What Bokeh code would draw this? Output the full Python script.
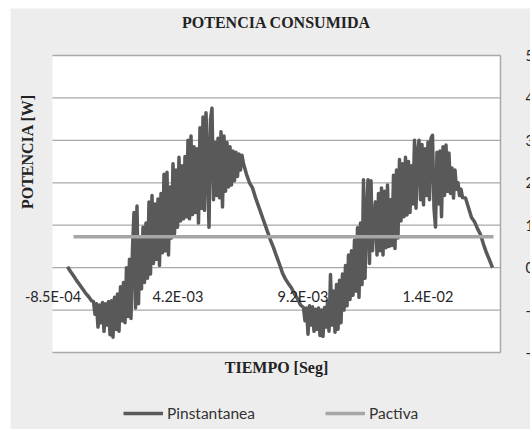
import math
from bokeh.plotting import figure
from bokeh.models import Range1d, Grid, Label, Legend, LegendItem, BoxAnnotation
from bokeh.embed import file_html
from bokeh.resources import INLINE

# ---------------- data ----------------
TITLE = "POTENCIA CONSUMIDA"
X_TITLE = "TIEMPO [Seg]"
Y_TITLE = "POTENCIA [W]"
SERIES_NAMES = ["Pinstantanea", "Pactiva"]

x_tick_values = [-8.5e-4, 4.15e-3, 9.15e-3, 1.415e-2]
x_tick_labels = ["-8.5E-04", "4.2E-03", "9.2E-03", "1.4E-02"]
y_tick_values = [-2, -1, 0, 1, 2, 3, 4, 5]
y_tick_labels = ["-2", "-1", "0", "1", "2", "3", "4", "5"]
x_limits = (-0.87e-3, 17.05e-3)
y_limits = (-2, 5)

# Pinstantanea: time in ms, power in W
t_start = [-0.27, -0.15, -0.03, 0.09, 0.21, 0.33, 0.45, 0.57, 0.69]
p_start = [0.02, -0.09, -0.19, -0.30, -0.40, -0.50, -0.60, -0.68, -0.78]

t_hump1 = [
    0.77, 0.83, 0.89, 0.95, 1.01, 1.07, 1.13, 1.19, 1.25, 1.31,
    1.37, 1.43, 1.49, 1.55, 1.61, 1.67, 1.73, 1.79, 1.85, 1.91,
    1.97, 2.03, 2.09, 2.15, 2.21, 2.27, 2.33, 2.39, 2.45, 2.51,
    2.57, 2.63, 2.69, 2.75, 2.81, 2.87, 2.93, 2.99, 3.05, 3.11,
    3.17, 3.23, 3.29, 3.35, 3.41, 3.47, 3.53, 3.59, 3.65, 3.71,
    3.77, 3.83, 3.89, 3.95, 4.01, 4.07, 4.13, 4.19, 4.25, 4.31,
    4.37, 4.43, 4.49, 4.55, 4.61, 4.67, 4.73, 4.79, 4.85, 4.91,
    4.97, 5.03, 5.09, 5.15, 5.21, 5.27, 5.33, 5.39, 5.45, 5.51,
    5.57, 5.63, 5.69, 5.75, 5.81, 5.87, 5.93, 5.99, 6.05, 6.11,
    6.17, 6.23, 6.29, 6.35, 6.41, 6.47, 6.53, 6.59, 6.65, 6.71,
    6.77,
]
p_hump1 = [
    -0.80, -1.10, -0.85, -1.40, -0.88, -1.30, -0.82, -1.50, -0.85, -1.35,
    -0.80, -1.58, -0.78, -1.64, -0.70, -1.45, -0.62, -1.50, -0.45, -1.25,
    -0.35, -1.30, 0.00, -1.15, 0.20, -1.20, 0.45, 1.30, -0.95, 1.45,
    -0.85, 0.70, -0.50, 0.95, -0.35, 1.05, -0.25, 1.55, -0.15, 1.70,
    0.10, 1.50, 0.20, 1.62, 0.05, 1.75, 0.35, 2.20, 0.40, 2.25,
    0.30, 1.90, 0.70, 2.45, 0.80, 2.30, 0.95, 2.60, 1.10, 2.40,
    1.15, 2.62, 1.20, 3.00, 1.15, 3.10, 1.25, 2.85, 1.30, 2.80,
    1.05, 3.30, 1.40, 3.55, 1.35, 3.65, 2.50, 0.95, 3.50, 3.76,
    1.60, 2.95, 1.70, 3.05, 1.65, 3.20, 1.43, 3.10, 1.80, 2.95,
    1.90, 2.85, 1.95, 2.75, 2.05, 2.72, 2.15, 2.68, 2.30, 2.65,
    2.45,
]

t_fall1 = [6.89, 7.01, 7.13, 7.25, 7.37, 7.49, 7.61, 7.73, 7.85, 7.97,
           8.09, 8.21, 8.33, 8.45, 8.57, 8.69, 8.81, 8.93, 9.05]
p_fall1 = [2.20, 2.00, 1.88, 1.65, 1.45, 1.25, 1.05, 0.85, 0.65, 0.47,
           0.27, 0.08, -0.13, -0.27, -0.38, -0.48, -0.62, -0.73, -0.88]

t_hump2 = [
    9.17, 9.23, 9.29, 9.35, 9.41, 9.47, 9.53, 9.59, 9.65, 9.71,
    9.77, 9.83, 9.89, 9.95, 10.01, 10.07, 10.13, 10.19, 10.25, 10.31,
    10.37, 10.43, 10.49, 10.55, 10.61, 10.67, 10.73, 10.79, 10.85, 10.91,
    10.97, 11.03, 11.09, 11.15, 11.21, 11.27, 11.33, 11.39, 11.45, 11.51,
    11.57, 11.63, 11.69, 11.75, 11.81, 11.87, 11.93, 11.99, 12.05, 12.11,
    12.17, 12.23, 12.29, 12.35, 12.41, 12.47, 12.53, 12.59, 12.65, 12.71,
    12.77, 12.83, 12.89, 12.95, 13.01, 13.07, 13.13, 13.19, 13.25, 13.31,
    13.37, 13.43, 13.49, 13.55, 13.61, 13.67, 13.73, 13.79, 13.85, 13.91,
    13.97, 14.03, 14.09, 14.15, 14.21, 14.27, 14.33, 14.39, 14.45, 14.51,
    14.57, 14.63, 14.69, 14.75, 14.81, 14.87, 14.93, 14.99, 15.05, 15.11,
    15.17, 15.23, 15.29, 15.35, 15.41, 15.47, 15.53,
]
p_hump2 = [
    -0.94, -1.25, -0.95, -1.57, -0.90, -1.35, -0.92, -1.50, -0.98, -1.45,
    -0.95, -1.60, -1.00, -1.62, -0.94, -1.40, -0.80, -1.50, -0.16, -1.35,
    -0.55, -1.52, -0.40, -1.45, -0.30, -1.30, -0.15, -1.00, 0.05, -0.90,
    0.30, -0.75, 0.40, -0.65, 0.65, -0.55, 0.94, -0.70, 1.05, -0.40,
    2.07, -0.25, 1.20, 2.07, 0.10, 2.05, 0.40, 1.20, 1.55, 0.30,
    1.75, 0.40, 1.88, 0.30, 1.80, 0.47, 1.95, 0.50, 1.60, 0.52,
    2.18, 0.45, 2.30, 0.70, 2.55, 1.10, 2.45, 1.20, 2.60, 1.24,
    2.50, 1.30, 2.40, 1.50, 3.00, 1.40, 2.70, 3.00, 1.60, 2.90,
    1.48, 2.80, 1.70, 2.96, 1.60, 3.05, 3.12, 1.40, 0.96, 2.72,
    1.50, 2.75, 1.20, 2.85, 1.70, 2.89, 1.80, 2.70, 1.75, 2.35,
    1.64, 2.30, 1.85, 2.00, 1.70, 1.85, 1.65,
]

t_fall2 = [15.65, 15.77, 15.89, 16.01, 16.13, 16.25, 16.37, 16.49, 16.61, 16.73]
p_fall2 = [1.64, 1.41, 1.18, 1.08, 0.92, 0.78, 0.55, 0.35, 0.18, 0.00]

# Pactiva: constant average power
t_pactiva = [-0.03, 16.77]
p_pactiva = [0.73, 0.73]

# ---------------- assemble ----------------
t_inst_ms = t_start + t_hump1 + t_fall1 + t_hump2 + t_fall2
p_inst = p_start + p_hump1 + p_fall1 + p_hump2 + p_fall2
assert len(t_inst_ms) == len(p_inst), (len(t_inst_ms), len(p_inst))
t_inst = [v * 1e-3 for v in t_inst_ms]
t_pact = [v * 1e-3 for v in t_pactiva]

# ---------------- layout (pixels) ----------------
W, H = 530, 429
ML, MT = 10, 8                 # white strip left / top of the grey chart
FW, FH = W - ML, H - MT        # frame = whole grey chart area
PA_L, PA_R = 42, 30            # plot area insets inside frame (left/right)
PA_T, PA_B = 47, 77            # plot area insets inside frame (top/bottom)
PAW, PAH = FW - PA_L - PA_R, FH - PA_T - PA_B

dx = (x_limits[1] - x_limits[0]) / PAW
dy = (y_limits[1] - y_limits[0]) / PAH
x_full = (x_limits[0] - PA_L * dx, x_limits[1] + PA_R * dx)
y_full = (y_limits[0] - PA_B * dy, y_limits[1] + PA_T * dy)

BG = "#ededed"
GRID = "#a9a9a9"
DARK = "#595959"
LIGHT = "#a6a6a6"
TXT = "#262626"
SERIF = "Liberation Serif"
SANS = "Lato"

p = figure(
    frame_width=FW, frame_height=FH,
    min_border_left=ML, min_border_top=MT, min_border_right=0, min_border_bottom=0,
    x_range=Range1d(*x_full), y_range=Range1d(*y_full),
    x_axis_location=None, y_axis_location=None,
    toolbar_location=None, output_backend="svg",
    background_fill_color=BG, border_fill_color="white",
)
p.outline_line_color = None
p.center = [r for r in p.center if not isinstance(r, Grid)]

# white plot area
p.add_layout(BoxAnnotation(left=x_limits[0], right=x_limits[1],
                           bottom=y_limits[0], top=y_limits[1],
                           fill_color="white", fill_alpha=1.0,
                           line_color=None, level="underlay"))
# horizontal grid lines and right border of the plot area
p.segment(x0=[x_limits[0]] * len(y_tick_values), x1=[x_limits[1]] * len(y_tick_values),
          y0=y_tick_values, y1=y_tick_values, line_color=GRID, line_width=1.3)
p.segment(x0=[x_limits[1]], x1=[x_limits[1]], y0=[y_limits[0]], y1=[y_limits[1]],
          line_color=GRID, line_width=1.5)

r_inst = p.line(t_inst, p_inst, line_color=DARK, line_width=3.5, line_join="round")
r_pact = p.line(t_pact, p_pactiva, line_color=LIGHT, line_width=3.5)

# x tick labels, sitting below the 0 line
for xv, lab in zip(x_tick_values, x_tick_labels):
    p.add_layout(Label(x=xv, y=0, y_offset=-29, text=lab, text_font=SANS,
                       text_font_size="14.5px", text_color=TXT,
                       text_align="center", text_baseline="middle"))

# right-hand value labels (cut by the page edge, as in the original)
for yv, lab in zip(y_tick_values, y_tick_labels):
    p.add_layout(Label(x=x_limits[1], x_offset=25, y=yv, text=lab,
                       text_font=SANS, text_font_size="14.5px", text_color=TXT,
                       text_align="left", text_baseline="middle"))

x_mid = (x_limits[0] + x_limits[1]) / 2
p.add_layout(Label(x=x_mid, y=y_limits[1], y_offset=33, text=TITLE,
                   text_font=SERIF, text_font_size="16px", text_font_style="bold",
                   text_color="#222222", text_align="center", text_baseline="middle"))
p.add_layout(Label(x=x_mid, y=y_limits[0], y_offset=-15, text=X_TITLE,
                   text_font=SERIF, text_font_size="16px", text_font_style="bold",
                   text_color="#222222", text_align="center", text_baseline="middle"))
p.add_layout(Label(x=x_limits[0], x_offset=-25, y=y_limits[1], y_offset=-96,
                   angle=math.pi / 2, text=Y_TITLE, text_font=SERIF,
                   text_font_size="16px", text_font_style="bold", text_color="#222222",
                   text_align="center", text_baseline="middle"))

legend = Legend(
    items=[LegendItem(label=SERIES_NAMES[0], renderers=[r_inst]),
           LegendItem(label=SERIES_NAMES[1], renderers=[r_pact])],
    orientation="horizontal", location=(113, 7), padding=0, margin=0,
    spacing=70, glyph_width=40, glyph_height=16, label_height=16,
    label_standoff=4, label_text_font=SANS, label_text_font_size="15.5px",
    label_text_color="#333333", background_fill_alpha=0, border_line_color=None,
)
p.add_layout(legend)

open("out.html", "w").write(file_html(p, INLINE))
